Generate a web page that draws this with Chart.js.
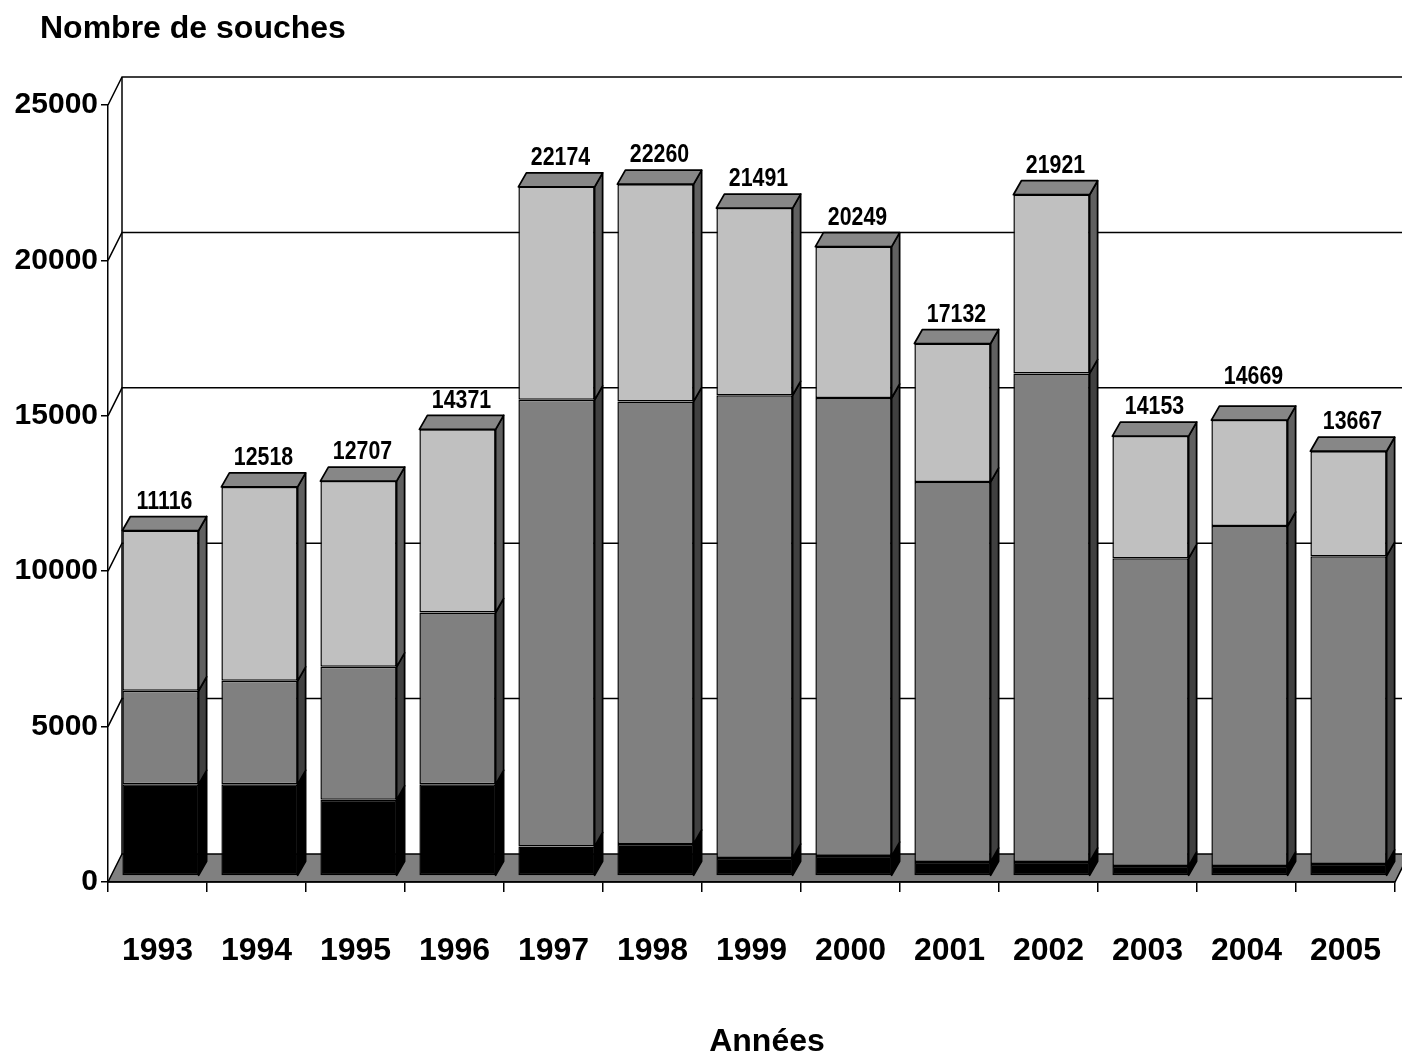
<!DOCTYPE html>
<html lang="fr">
<head>
<meta charset="utf-8">
<title>Nombre de souches par année</title>
<script src="https://cdn.jsdelivr.net/npm/chart.js@4.4.1/dist/chart.umd.min.js"></script>
<style>
  html, body { margin: 0; padding: 0; background: #ffffff; }
  #wrap { width: 1402px; height: 1054px; }
</style>
</head>
<body>
<div id="wrap"><canvas id="chart" width="1402" height="1054"></canvas></div>
<script>
// Années
const years = ['1993', '1994', '1995', '1996', '1997', '1998', '1999', '2000', '2001', '2002', '2003', '2004', '2005'];
// Total annuel (étiquette au-dessus de chaque colonne)
const totals = [11116, 12518, 12707, 14371, 22174, 22260, 21491, 20249, 17132, 21921, 14153, 14669, 13667];
// Segments empilés, du bas vers le haut
const segmentNoir = [2950, 2950, 2450, 2950, 950, 1030, 580, 640, 450, 450, 320, 320, 390];
const segmentGrisFonce = [3010, 3330, 4280, 5530, 14370, 14240, 14890, 14740, 12230, 15720, 9900, 10940, 9900];
const segmentGrisClair = [5156, 6238, 5977, 5891, 6854, 6990, 6021, 4869, 4452, 5751, 3933, 3409, 3377];
// Graduations de l'axe vertical
const yTicks = [0, 5000, 10000, 15000, 20000, 25000];

// Perspective : mur du fond, position des colonnes, profondeur des colonnes
const WALL = { dx: 14, dy: -28 };
const SHIFT = { dx: 3, dy: -6 };
const DEPTH = { dx: 8, dy: -14 };
const FONT = '"Liberation Sans", Arial, Helvetica, sans-serif';

function poly(ctx, pts, fill) {
  ctx.beginPath();
  ctx.moveTo(pts[0][0], pts[0][1]);
  for (let i = 1; i < pts.length; i++) ctx.lineTo(pts[i][0], pts[i][1]);
  ctx.closePath();
  ctx.fillStyle = fill;
  ctx.fill();
  ctx.stroke();
}

const relief = {
  id: 'relief',
  beforeDraw(chart) {
    const ctx = chart.ctx;
    const ys = chart.scales.y;
    const { left, right, bottom } = chart.chartArea;
    ctx.save();
    ctx.strokeStyle = '#000';
    ctx.lineWidth = 1.5;
    // sol
    poly(ctx, [[left, bottom], [right, bottom], [right + WALL.dx, bottom + WALL.dy], [left + WALL.dx, bottom + WALL.dy]], '#808080');
    // mur du fond et quadrillage
    const topY = ys.getPixelForValue(ys.max) + WALL.dy;
    ctx.beginPath();
    ctx.moveTo(left + WALL.dx, topY);
    ctx.lineTo(left + WALL.dx, bottom + WALL.dy);
    ctx.stroke();
    yTicks.forEach(v => {
      if (v === 0) return;
      const py = ys.getPixelForValue(v);
      ctx.beginPath();
      ctx.moveTo(left, py);
      ctx.lineTo(left + WALL.dx, py + WALL.dy);
      ctx.lineTo(chart.width, py + WALL.dy);
      ctx.stroke();
    });
    ctx.restore();
  },
  // faces avant décalées vers le fond
  beforeDatasetDraw(chart) {
    chart.ctx.save();
    chart.ctx.translate(SHIFT.dx, SHIFT.dy);
  },
  afterDatasetDraw(chart) {
    chart.ctx.restore();
  },
  // faces latérales et dessus, du bas vers le haut de chaque pile
  afterDatasetsDraw(chart) {
    const ctx = chart.ctx;
    const n = chart.data.datasets.length;
    ctx.save();
    ctx.strokeStyle = '#000';
    ctx.lineWidth = 1.75;
    ctx.lineJoin = 'round';
    for (let d = 0; d < n; d++) {
      const ds = chart.data.datasets[d];
      chart.getDatasetMeta(d).data.forEach(el => {
        const p = el.getProps(['x', 'y', 'base', 'width'], true);
        const L = p.x - p.width / 2 + SHIFT.dx;
        const R = p.x + p.width / 2 + SHIFT.dx;
        const T = Math.min(p.y, p.base) + SHIFT.dy;
        const B = Math.max(p.y, p.base) + SHIFT.dy;
        poly(ctx, [[R, T], [R + DEPTH.dx, T + DEPTH.dy], [R + DEPTH.dx, B + DEPTH.dy], [R, B]], ds.sideColor);
        if (d === n - 1) {
          poly(ctx, [[L, T], [R, T], [R + DEPTH.dx, T + DEPTH.dy], [L + DEPTH.dx, T + DEPTH.dy]], ds.topColor);
        }
      });
    }
    // totaux au-dessus des colonnes
    ctx.fillStyle = '#000';
    ctx.font = 'bold 26px ' + FONT;
    ctx.textAlign = 'center';
    ctx.textBaseline = 'middle';
    chart.getDatasetMeta(n - 1).data.forEach((el, i) => {
      const lift = i === 11 ? 43 : 29;
      ctx.save();
      ctx.translate(el.x + SHIFT.dx + DEPTH.dx / 2, el.y + SHIFT.dy - lift);
      ctx.scale(0.82, 1);
      ctx.fillText(String(totals[i]), 0, 0);
      ctx.restore();
    });
    ctx.restore();
  },
  afterDraw(chart) {
    const ctx = chart.ctx;
    ctx.save();
    ctx.fillStyle = '#000';
    ctx.font = 'bold 32px ' + FONT;
    ctx.textBaseline = 'middle';
    ctx.textAlign = 'left';
    ctx.fillText('Nombre de souches', 40, 29);
    ctx.textAlign = 'center';
    ctx.fillText('Années', 767, 1042);
    ctx.restore();
  }
};

const common = { borderColor: '#000', borderWidth: 1.5, borderSkipped: false, barPercentage: 0.77, categoryPercentage: 1 };

new Chart(document.getElementById('chart'), {
  type: 'bar',
  data: {
    labels: years,
    datasets: [
      Object.assign({ label: 'noir', data: segmentNoir, backgroundColor: '#000000', sideColor: '#000000', topColor: '#000000' }, common),
      Object.assign({ label: 'gris foncé', data: segmentGrisFonce, backgroundColor: '#808080', sideColor: '#404040', topColor: '#606060' }, common),
      Object.assign({ label: 'gris clair', data: segmentGrisClair, backgroundColor: '#c0c0c0', sideColor: '#606060', topColor: '#878787' }, common)
    ]
  },
  options: {
    responsive: false,
    animation: false,
    layout: { padding: { left: 0, right: 7, top: 105, bottom: 0 } },
    plugins: { legend: { display: false }, tooltip: { enabled: false }, title: { display: false } },
    scales: {
      x: {
        stacked: true,
        grid: { display: true, drawOnChartArea: false, drawTicks: true, tickLength: 10, color: '#000', lineWidth: 1.5, offset: true },
        border: { display: true, color: '#000', width: 1.5 },
        ticks: { color: '#000', font: { family: FONT, size: 32, weight: 'bold' }, padding: 40, maxRotation: 0, autoSkip: false },
        afterFit(scale) {
          scale.height = 172;
          scale.paddingLeft = 0;
          scale.paddingRight = 0;
        }
      },
      y: {
        stacked: true,
        min: 0,
        max: 25000,
        afterBuildTicks(scale) { scale.ticks = yTicks.map(v => ({ value: v })); },
        grid: { display: true, drawOnChartArea: false, drawTicks: true, tickLength: 7, color: '#000', lineWidth: 1.5 },
        border: { display: true, color: '#000', width: 1.5 },
        ticks: { color: '#000', font: { family: FONT, size: 30, weight: 'bold' }, padding: 3, callback: v => String(v) },
        afterFit(scale) {
          scale.width = 108;
          scale.paddingTop = 0;
          scale.paddingBottom = 0;
        }
      }
    }
  },
  plugins: [relief]
});
</script>
</body>
</html>
